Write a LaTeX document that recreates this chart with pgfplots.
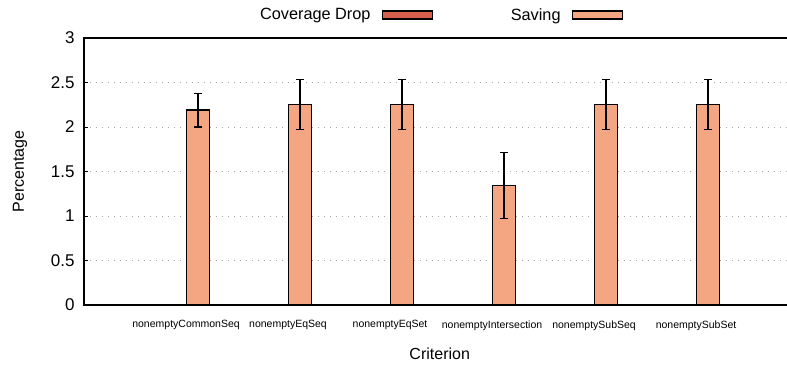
\documentclass[border=0pt]{standalone}
\usepackage{pgfplots}
\pgfplotsset{compat=1.18}
\usepackage{pgfplotstable}
\usepackage{fontspec}
\setmainfont{Liberation Sans}

\definecolor{dropcol}{HTML}{D6604D}
\definecolor{savecol}{HTML}{F4A582}

% x  value  error
\pgfplotstableread{
x  y     err
0  0     0
1  0     0
2  0     0
3  0     0
4  0     0
5  0     0
}\coveragedrop
\pgfplotstableread{
x  y     err
0  2.19  0.19
1  2.25  0.28
2  2.25  0.28
3  1.345 0.37
4  2.25  0.28
5  2.25  0.28
}\saving

\begin{document}
\begin{tikzpicture}
\useasboundingbox (0,0) rectangle (787pt,365pt);
\begin{axis}[
  at={(84pt,60pt)}, anchor=south west,
  scale only axis,
  width=710pt, height=267pt,
  xmin=-1, xmax=5.96,
  ymin=0, ymax=3,
  ytick={0,0.5,...,3},
  xtick={0,1,2,3,4,5},
  xticklabels={nonemptyCommonSeq,nonemptyEqSeq,nonemptyEqSet,nonemptyIntersection,nonemptySubSeq,nonemptySubSet},
  /pgf/number format/assume math mode=true,
  yticklabel style={font=\fontsize{17}{19}\selectfont, xshift=-6pt},
  xticklabel style={font=\fontsize{10.5}{12}\selectfont, yshift=-8pt},
  xtick style={draw=none},
  ytick pos=left,
  tick align=inside,
  major tick length=4pt,
  ytick style={black, line width=0.8pt},
  axis line style={line width=1.2pt},
  ymajorgrids,
  grid style={dash pattern=on 1pt off 5pt, gray!70, line width=0.8pt},
  ylabel={Percentage},
  xlabel={Criterion},
  every axis y label/.style={at={(axis description cs:-0.0901,0.5)}, rotate=90, anchor=center, font=\fontsize{16}{18}\selectfont},
  every axis x label/.style={at={(axis description cs:0.501,-0.1835)}, anchor=center, font=\fontsize{16}{18}\selectfont},
  ybar, bar width=23pt,
  legend plot pos=right,
  legend columns=2,
  legend style={
    draw=none, fill=none,
    at={(axis description cs:0.502,1.086)}, anchor=center,
    font=\fontsize{16.3}{18}\selectfont,
    /tikz/every even column/.append style={column sep=76pt},
    /tikz/every odd column/.append style={column sep=9pt},
  },
]
\addplot[draw=black, line width=1.2pt, fill=dropcol, bar shift=-12pt,
  legend image code/.code={\draw[draw=black, line width=1.2pt, fill=dropcol] (0pt,-4pt) rectangle (50pt,4pt);}]
  table[x=x, y=y] {\coveragedrop};
\addlegendentry{Coverage Drop}
\addplot[draw=black, line width=1.2pt, fill=savecol, bar shift=12pt,
  legend image code/.code={\draw[draw=black, line width=1.2pt, fill=savecol] (0pt,-4pt) rectangle (50pt,4pt);},
  error bars/.cd, y dir=both, y explicit,
  error bar style={line width=1.2pt, black},
  error mark options={rotate=90, mark size=4pt, line width=1.2pt, black}]
  table[x=x, y=y, y error=err] {\saving};
\addlegendentry{Saving}
\end{axis}
\end{tikzpicture}
\end{document}
